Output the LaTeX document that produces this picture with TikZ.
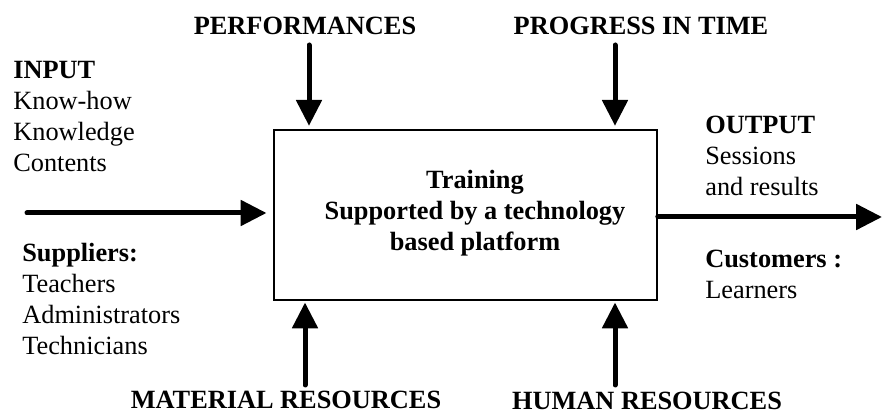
\documentclass[tikz,border=0pt]{standalone}
\usepackage{fontspec}
\setmainfont{Liberation Serif}
\usetikzlibrary{arrows.meta, positioning}
\newcommand{\diagfont}{\fontsize{15.8}{18.5}\selectfont}
\tikzset{
x=0.6pt, y=-0.6pt, % one unit is one pixel of the reference
flow/.style={line width=3pt, line cap=round, -{Triangle[length=15.5pt, width=15pt]}}, % the thick arrows
process/.style={draw, line width=1pt, minimum width=229.8pt, minimum height=102pt}, % the central box
boxtext/.style={font=\diagfont\bfseries, align=center, inner sep=0pt}, % text inside the box
ctrl/.style={font=\diagfont\bfseries, inner sep=0pt}, % labels above and below
list/.style={font=\diagfont, align=left, anchor=north west, inner sep=0pt}, % side lists
}

\begin{document}
\begin{tikzpicture}
    \useasboundingbox (0,0) rectangle (882,414);
    \node[process] (training) at (465.5,215) {};
    \node[boxtext, anchor=north] (task) at (475,170) {Training\\Supported by a technology\\based platform};
    \node[ctrl, anchor=base] (perf) at (305,35) {PERFORMANCES};
    \node[ctrl, anchor=base] (progress) at (641,35) {PROGRESS IN TIME};
    \node[ctrl, anchor=base] (material) at (286,409) {MATERIAL RESOURCES};
    \node[ctrl, anchor=base] (human) at (647,410) {HUMAN RESOURCES};
    \node[list] (input) at (13,61) {\textbf{INPUT}\\Know-how\\Knowledge\\Contents};
    \node[list] (suppliers) at (22,243) {\textbf{Suppliers:}\\Teachers\\Administrators\\Technicians};
    \node[list] (output) at (705,116) {\textbf{OUTPUT}\\Sessions\\and results};
    \node[list] (customers) at (705,250) {\textbf{Customers :}\\Learners};
    \coordinate (in) at (27,213);
    \coordinate (out) at (882,217);
    \coordinate (perfIn) at (309,45);
    \coordinate (timeIn) at (615,45);
    \coordinate (matIn) at (305,385);
    \coordinate (humIn) at (615,385);
    \draw[flow, shorten >=4pt] (in) -- (in -| training.west);
    \draw[flow] (out -| training.east) -- (out);
    \draw[flow, shorten >=2pt] (perfIn) -- (perfIn |- training.north);
    \draw[flow, shorten >=2pt] (timeIn) -- (timeIn |- training.north);
    \draw[flow, shorten >=1pt] (matIn) -- (matIn |- training.south);
    \draw[flow, shorten >=1pt] (humIn) -- (humIn |- training.south);
\end{tikzpicture}
\end{document}
